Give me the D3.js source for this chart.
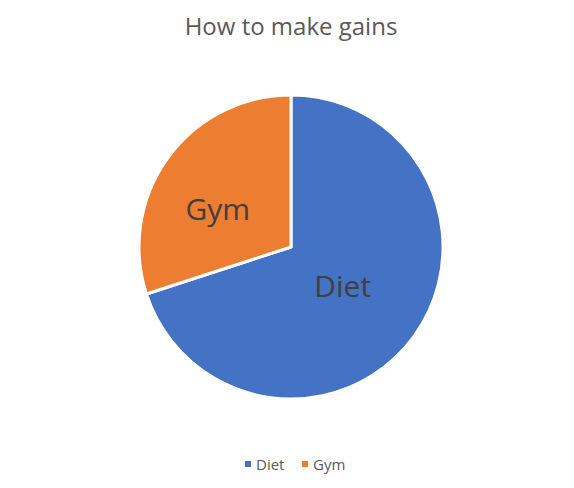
<!DOCTYPE html>
<html><head><meta charset="utf-8">
<script src="https://cdn.jsdelivr.net/npm/d3@7"></script>
<style>body{margin:0;background:#fff}</style>
</head><body>
<script>
const categories = ["Diet", "Gym"];
const values = [70, 30];
const colors = ["#4472C4", "#ED7D31"];
const title = "How to make gains";

const W = 574, H = 488;
const svg = d3.select("body").append("svg").attr("width", W).attr("height", H);
const font = "Open Sans, Lato, sans-serif";

svg.append("text").attr("x", 291).attr("y", 35).attr("text-anchor", "middle")
  .attr("font-family", font).attr("font-size", 24).attr("fill", "#595959").text(title);

const cx = 291, cy = 247, r = 152;
const pie = d3.pie().sort(null).value(d => d)(values);
const arc = d3.arc().innerRadius(0).outerRadius(r);
const g = svg.append("g").attr("transform", `translate(${cx},${cy})`);
g.selectAll("path").data(pie).join("path")
  .attr("d", arc).attr("fill", (d, i) => colors[i])
  .attr("stroke", "#fff").attr("stroke-width", 3).attr("stroke-linejoin", "round");

// label placement (fraction of radius, angle shift in radians)
const labelR = [0.43, 0.54];
const labelShift = [0.03, -0.16];
g.selectAll("text").data(pie).join("text")
  .attr("transform", (d, i) => {
    const a = (d.startAngle + d.endAngle) / 2 + labelShift[i];
    const rr = r * labelR[i];
    return `translate(${rr * Math.sin(a)},${-rr * Math.cos(a)})`;
  })
  .attr("text-anchor", "middle").attr("dy", "0.35em")
  .attr("font-family", font).attr("font-size", 30).attr("fill", "#404040")
  .text((d, i) => categories[i]);

const legend = svg.append("g");
const lx = [245, 302];
categories.forEach((c, i) => {
  legend.append("rect").attr("x", lx[i]).attr("y", 461).attr("width", 6).attr("height", 6).attr("fill", colors[i]);
  legend.append("text").attr("x", lx[i] + 11).attr("y", 470).attr("font-family", font)
    .attr("font-size", 15).attr("fill", "#595959").text(c);
});
</script>
</body></html>
